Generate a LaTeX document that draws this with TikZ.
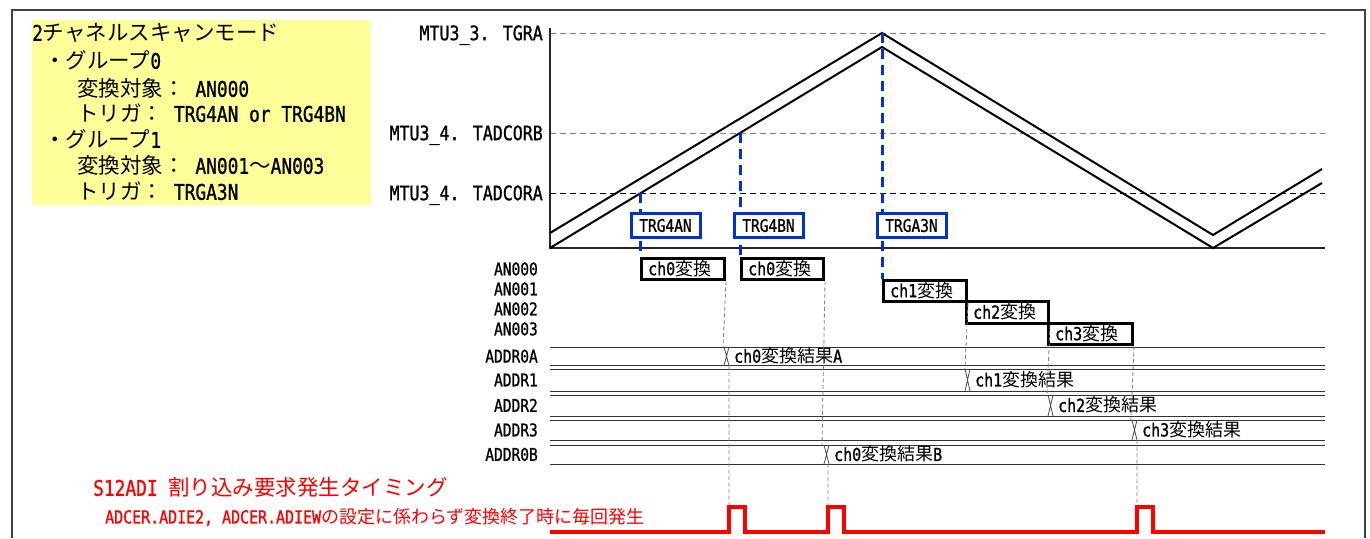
\documentclass[tikz,border=0pt]{standalone}
\usepackage{fontspec}
\setmainfont{Noto Sans CJK JP}
\newfontfamily\hw[FakeStretch=0.83,FakeBold=1]{DejaVu Sans Mono}
\usetikzlibrary{positioning}
\definecolor{trgblue}{RGB}{0,51,204}
\definecolor{notebg}{RGB}{255,255,153}

\begin{document}
\begin{tikzpicture}[x=1pt,y=-1pt,
  txt/.style={inner sep=0pt},
  note/.style={txt,anchor=west,text height=17.2pt,text depth=1.7pt,
    font=\fontsize{21.5}{26}\selectfont},
  lvl/.style={txt,anchor=east,text height=16pt,text depth=1.6pt,
    font=\fontsize{20}{24}\hw},
  sig/.style={txt,anchor=east,text height=14pt,text depth=1.4pt,
    font=\fontsize{17.5}{20}\hw},
  res/.style={txt,anchor=west,text height=14.4pt,text depth=1.44pt,
    font=\fontsize{18}{20}\selectfont},
  trgbox/.style={draw=trgblue,line width=3pt,fill=white,minimum width=69pt,
    minimum height=24pt,inner sep=0pt,anchor=west,font=\fontsize{17.5}{20}\hw},
  convbox/.style={draw,line width=3pt,minimum height=21.5pt,inner sep=0pt,anchor=north west},
  wave/.style={line width=2pt,line join=miter},
  level/.style={line width=1pt,dash pattern=on 6pt off 4pt},
  trig/.style={trgblue,line width=3pt,dash pattern=on 10pt off 6pt},
  guide/.style={gray,line width=0.8pt,dash pattern=on 4pt off 2.5pt},
  bus/.style={black!80,line width=1pt},
  irq/.style={red,line width=4pt,line join=miter}
]
\useasboundingbox (0,0) rectangle (1370,538);
\draw[black!75,line width=1.5pt] (12,538) -- (12,10) -- (1365,10) -- (1365,538);

% mode note
\fill[notebg] (32,20) rectangle (371,205);
\node[note] (mode) at (32,33) {{\hw 2}チャネルスキャンモード};
\node[note] (grp0) at (44,61) {・グループ{\hw 0}};
\node[note] (obj0) at (77,89) {変換対象：{\hw\ AN000}};
\node[note] (trg0) at (77,114) {トリガ：{\hw\ TRG4AN or TRG4BN}};
\node[note] (grp1) at (44,140) {・グループ{\hw 1}};
\node[note] (obj1) at (77,166) {変換対象：{\hw\ AN001}～{\hw AN003}};
\node[note] (trg1) at (77,192) {トリガ：{\hw\ TRGA3N}};

% counter
\foreach \y/\n/\t/\c in {33/tgra/MTU3\_3. TGRA/gray,
    133/tadcorb/MTU3\_4. TADCORB/gray, 193/tadcora/MTU3\_4. TADCORA/black}{
  \draw[level,draw=\c] (550,\y) -- (1325,\y);
  \node[lvl] (\n) at (543,\y) {\t};
}
\draw[black!85,line width=1.2pt] (550,28) -- (550,248) -- (1325,248);
\draw[wave] (550,233) -- (882,33) -- (1213,235) -- (1322,169);
\draw[wave] (550,248) -- (882,47) -- (1213,248) -- (1322,183);
\coordinate (pa) at (640,193);
\coordinate (pb) at (740,133);
\coordinate (pc) at (882,33);

% conversions
\foreach \n/\x/\y/\w/\c in {c0a/640/256.5/83/0, c0b/740/256.5/82/0,
    c1/882/278.5/83/1, c2/965/300/82/2, c3/1047/321.5/84/3}{
  \node[convbox,minimum width=\w pt] (\n) at (\x,\y) {};
  \node[res,right=8pt of \n.west] {{\hw ch\c}変換};
}
\foreach \n/\y in {AN000/269, AN001/289, AN002/309, AN003/329}
  \node[sig] (\n) at (538,\y) {\n};

\draw[trig] (pa) -- (c0a.north west);
\draw[trig] (pb) -- (c0b.north west);
\draw[trig] (pc) -- (c1.north west);
\node[trgbox] (t4an) at (629.5,225.5) {TRG4AN};
\node[trgbox] (t4bn) at (732.5,225.5) {TRG4BN};
\node[trgbox] (ta3n) at (875.5,225.5) {TRGA3N};

% result registers
\foreach \n/\t/\b in {ADDR0A/347/365.5, ADDR1/369/391, ADDR2/395/416,
    ADDR3/420/440, ADDR0B/445/464}{
  \draw[bus] (550,\t) -- (1325,\t) (550,\b) -- (1325,\b);
  \node[sig] (\n) at (538,{(\t+\b)/2}) {\n};
}
\foreach \x/\t/\b/\c/\s in {724/347/365.5/0/A, 965/369/391/1/,
    1048/395/416/2/, 1132/420/440/3/, 824/445/464/0/B}{
  \draw[black!70,line width=0.8pt] (\x,\t) -- (\x+5,\b) (\x+5,\t) -- (\x,\b);
  \node[res] at (\x+10,{(\t+\b)/2}) {{\hw ch\c}変換結果{\hw\s}};
}
\draw[guide] (c0a.south east) -- (723,347) (729,365.5) -- (729,507);
\draw[guide] (c0b.south east) -- (822,445) (828,464) -- (828,507);
\draw[guide] (c1.south east) -- (965,369);
\draw[guide] (c2.south east) -- (1047,395);
\draw[guide] (c3.south east) -- (1131,420) (1137,440) -- (1137,507);

% interrupt
\node[note,text=red] (irqtitle) at (93,488) {{\hw S12ADI }割り込み要求発生タイミング};
\node[res,text=red] (irqnote) at (105,517) {{\hw ADCER.ADIE2, ADCER.ADIEW}の設定に係わらず変換終了時に毎回発生};
\draw[irq] (550,532) foreach \p in {729,828,1137}{
  -- (\p,532) -- (\p,507) -- (\p+16,507) -- (\p+16,532)} -- (1325,532);
\end{tikzpicture}
\end{document}
